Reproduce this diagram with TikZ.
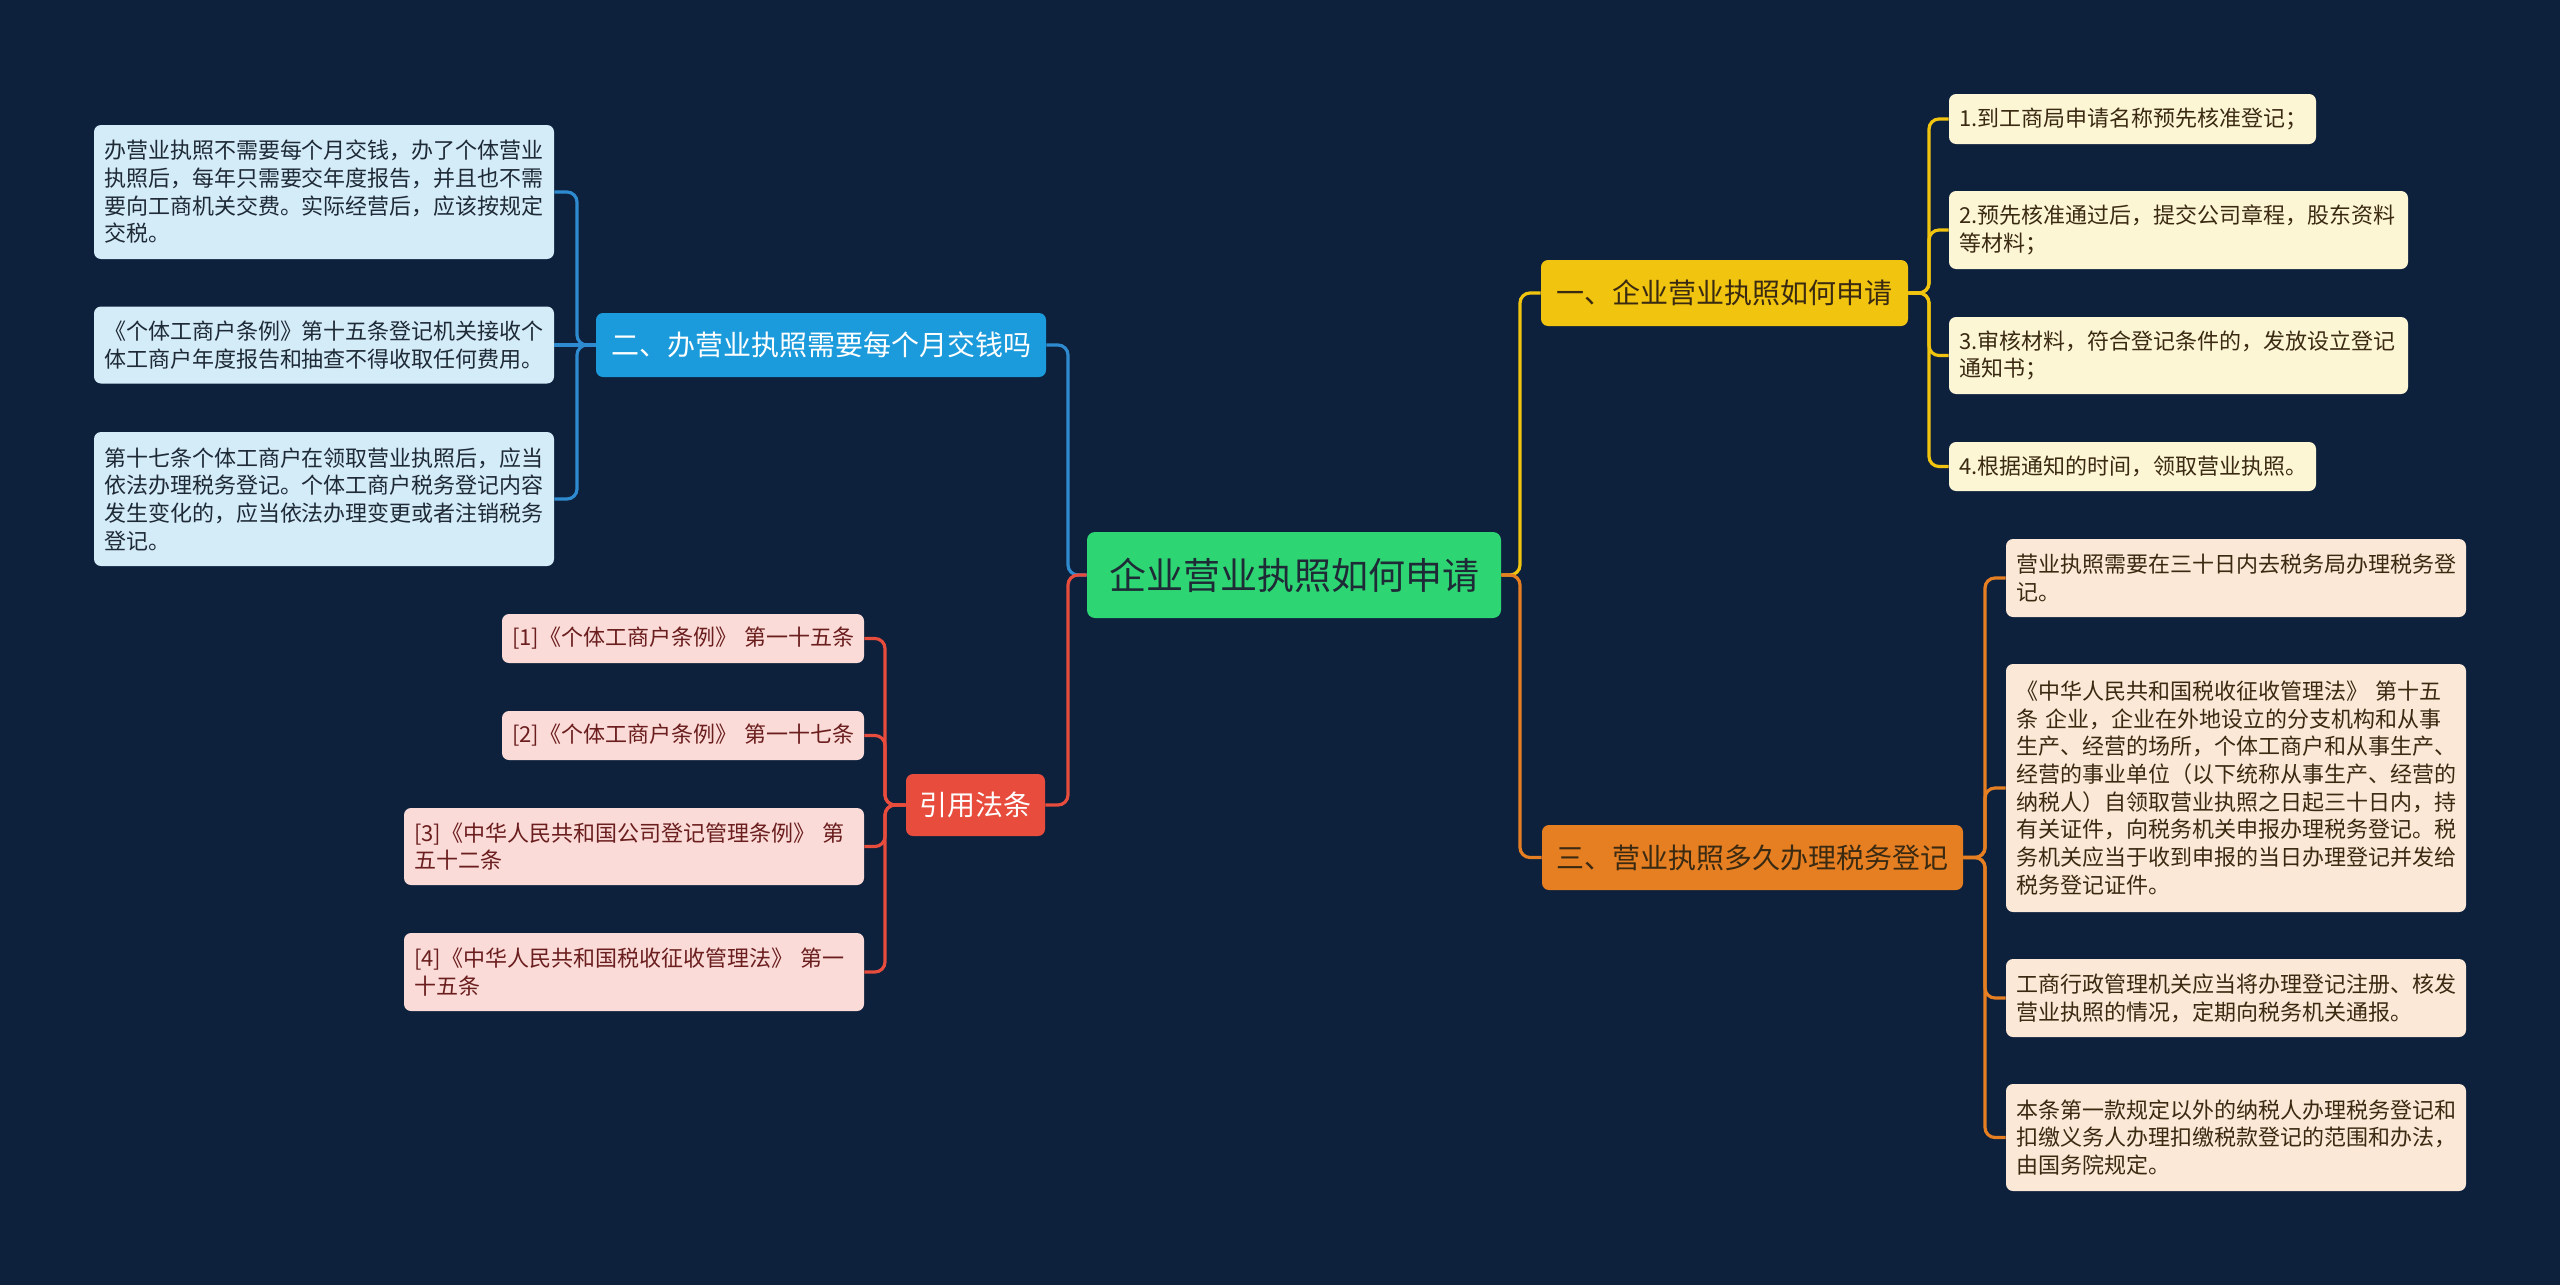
\documentclass[tikz,border=0pt]{standalone}
\usepackage{fontspec}
\setmainfont{Noto Sans CJK SC}
\usetikzlibrary{positioning}
\definecolor{bg}{HTML}{0D213D}
\definecolor{cgreen}{HTML}{2ED573}
\definecolor{cblue}{HTML}{1B9BDB}
\definecolor{lblue}{HTML}{2E8BD0}
\definecolor{fblue}{HTML}{D4ECF8}
\definecolor{cyel}{HTML}{F1C40F}
\definecolor{fyel}{HTML}{FDF6D5}
\definecolor{corg}{HTML}{E67E22}
\definecolor{forg}{HTML}{FCE8D6}
\definecolor{cred}{HTML}{E74C3C}
\definecolor{fred}{HTML}{FADBD8}
\definecolor{tdark}{HTML}{1E2A36}
\definecolor{tbrown}{HTML}{3A2A12}
\definecolor{tred}{HTML}{6B1E1E}

\begin{document}
\begin{tikzpicture}[x=0.5pt,y=-0.5pt,
  leaf/.style={rounded corners=3.5pt,inner xsep=5pt,inner ysep=0pt,align=left,
    font=\fontsize{11pt}{13.85pt}\selectfont},
  branch/.style={rounded corners=3.5pt,inner sep=0pt,font=\fontsize{14pt}{16pt}\selectfont},
  link/.style={line width=1.6pt,rounded corners=5pt}]
  \fill[bg] (0,0) rectangle (2560,1285);
  \useasboundingbox (0,0) rectangle (2560,1285);

  % centre
  \node[fill=cgreen,text=tdark,rounded corners=4pt,inner sep=0pt,minimum width=207pt,
    minimum height=43pt,font=\fontsize{18.5pt}{22pt}\selectfont] (root) at (1294,575) {企业营业执照如何申请};

  % main branches
  \node[branch,fill=cblue,text=white,minimum width=225pt,minimum height=32pt] (b) at (821,345) {二、办营业执照需要每个月交钱吗};
  \node[branch,fill=cred,text=white,minimum width=69.5pt,minimum height=31pt] (r) at (975.5,805) {引用法条};
  \node[branch,fill=cyel,text=tbrown,minimum width=183.5pt,minimum height=33pt] (y) at (1724.5,293) {一、企业营业执照如何申请};
  \node[branch,fill=corg,text=tbrown,minimum width=210.5pt,minimum height=32.5pt] (o) at (1752.5,857.5) {三、营业执照多久办理税务登记};

  % blue leaves
  \node[leaf,fill=fblue,text=tdark,text width=220pt,minimum height=67pt] (b1) at (324,192)
    {办营业执照不需要每个月交钱，办了个体营业\\执照后，每年只需要交年度报告，并且也不需\\要向工商机关交费。实际经营后，应该按规定\\交税。};
  \node[leaf,fill=fblue,text=tdark,text width=220pt,minimum height=38.5pt] (b2) at (324,345)
    {《个体工商户条例》第十五条登记机关接收个\\体工商户年度报告和抽查不得收取任何费用。};
  \node[leaf,fill=fblue,text=tdark,text width=220pt,minimum height=67pt] (b3) at (324,499)
    {第十七条个体工商户在领取营业执照后，应当\\依法办理税务登记。个体工商户税务登记内容\\发生变化的，应当依法办理变更或者注销税务\\登记。};

  % red leaves
  \node[leaf,fill=fred,text=tred,text width=171pt,minimum height=24.5pt] (r1) at (683,638.5)
    {[1]《个体工商户条例》~第一十五条};
  \node[leaf,fill=fred,text=tred,text width=171pt,minimum height=24.5pt] (r2) at (683,735.5)
    {[2]《个体工商户条例》~第一十七条};
  \node[leaf,fill=fred,text=tred,text width=220pt,minimum height=38.5pt] (r3) at (634,846.5)
    {[3]《中华人民共和国公司登记管理条例》~第\\五十二条};
  \node[leaf,fill=fred,text=tred,text width=220pt,minimum height=39pt] (r4) at (634,972)
    {[4]《中华人民共和国税收征收管理法》~第一\\十五条};

  % yellow leaves
  \node[leaf,fill=fyel,text=tbrown,text width=173.5pt,minimum height=25pt] (y1) at (2132.5,119)
    {1.到工商局申请名称预先核准登记；};
  \node[leaf,fill=fyel,text=tbrown,text width=219.5pt,minimum height=39pt] (y2) at (2178.5,230)
    {2.预先核准通过后，提交公司章程，股东资料\\等材料；};
  \node[leaf,fill=fyel,text=tbrown,text width=219.5pt,minimum height=38.5pt] (y3) at (2178.5,355.5)
    {3.审核材料，符合登记条件的，发放设立登记\\通知书；};
  \node[leaf,fill=fyel,text=tbrown,text width=173.5pt,minimum height=24.5pt] (y4) at (2132.5,466.5)
    {4.根据通知的时间，领取营业执照。};

  % orange leaves
  \node[leaf,fill=forg,text=tbrown,text width=220pt,minimum height=39pt] (o1) at (2236,578)
    {营业执照需要在三十日内去税务局办理税务登\\记。};
  \node[leaf,fill=forg,text=tbrown,text width=220pt,minimum height=124pt] (o2) at (2236,788)
    {《中华人民共和国税收征收管理法》~第十五\\条~企业，企业在外地设立的分支机构和从事\\生产、经营的场所，个体工商户和从事生产、\\经营的事业单位（以下统称从事生产、经营的\\纳税人）自领取营业执照之日起三十日内，持\\有关证件，向税务机关申报办理税务登记。税\\务机关应当于收到申报的当日办理登记并发给\\税务登记证件。};
  \node[leaf,fill=forg,text=tbrown,text width=220pt,minimum height=39pt] (o3) at (2236,998)
    {工商行政管理机关应当将办理登记注册、核发\\营业执照的情况，定期向税务机关通报。};
  \node[leaf,fill=forg,text=tbrown,text width=220pt,minimum height=53.5pt] (o4) at (2236,1137.5)
    {本条第一款规定以外的纳税人办理税务登记和\\扣缴义务人办理扣缴税款登记的范围和办法，\\由国务院规定。};

  % spines
  \coordinate (lx) at (1068,0);
  \coordinate (rx) at (1520,0);
  \coordinate (bx) at (577,0);
  \coordinate (redx) at (885,0);
  \coordinate (yx) at (1929,0);
  \coordinate (ox) at (1985,0);

  % connectors
  \draw[link,lblue] (root.west) -- (lx |- root.west) |- (b.east);
  \draw[link,cred] (root.west) -- (lx |- root.west) |- (r.east);
  \draw[link,cyel] (root.east) -- (rx |- root.east) |- (y.west);
  \draw[link,corg] (root.east) -- (rx |- root.east) |- (o.west);
  \foreach \n in {b1,b3} \draw[link,lblue] (b.west) -- (bx |- b.west) |- (\n.east);
  \draw[link,lblue] (b.west) -- (b2.east);
  \foreach \n in {r1,r2,r3,r4} \draw[link,cred] (r.west) -- (redx |- r.west) |- (\n.east);
  \foreach \n in {y1,y2,y3,y4} \draw[link,cyel] (y.east) -- (yx |- y.east) |- (\n.west);
  \foreach \n in {o1,o2,o3,o4} \draw[link,corg] (o.east) -- (ox |- o.east) |- (\n.west);
\end{tikzpicture}
\end{document}
